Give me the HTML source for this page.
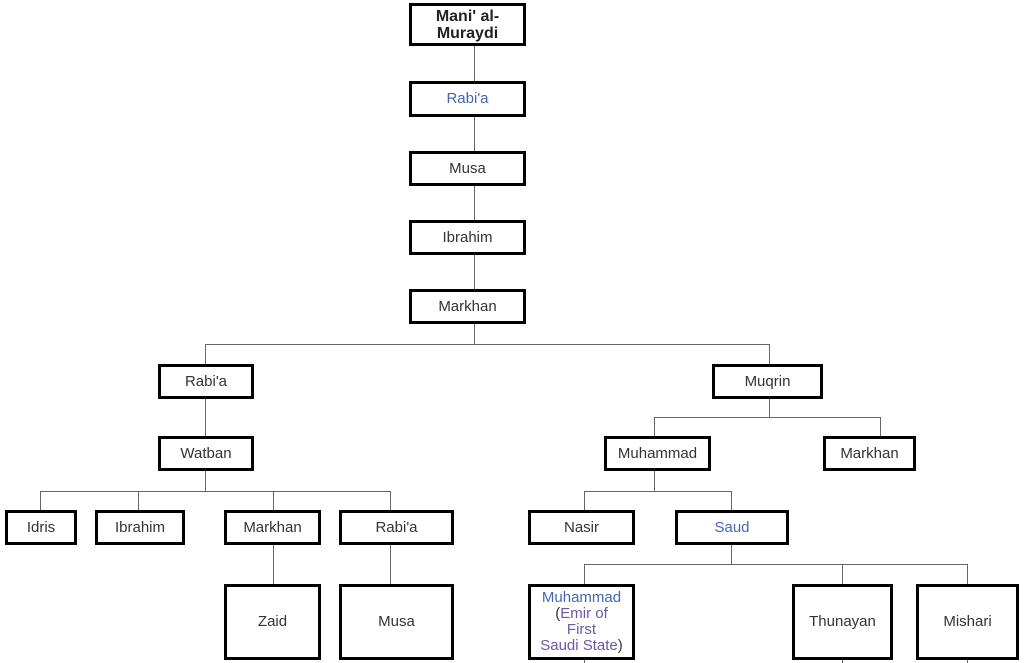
<!DOCTYPE html>
<html><head><meta charset="utf-8"><style>
body{margin:0;width:1024px;height:663px;background:#fff;position:relative;overflow:hidden;font-family:"Liberation Sans","DejaVu Sans",sans-serif;font-size:15px;color:#333}
.b{position:absolute;box-sizing:border-box;border:3px solid #000;background:#fff;display:flex;align-items:center;justify-content:center;text-align:center;line-height:16px}
.h{position:absolute;height:1px;background:#666}
.v{position:absolute;width:1px;background:#666}
.l{color:#4466b4}.p{color:#6b58a8}
</style></head><body>
<div class="v" style="left:474px;top:44px;height:246px"></div>
<div class="v" style="left:474px;top:322px;height:22px"></div>
<div class="h" style="left:205px;top:344px;width:565px"></div>
<div class="v" style="left:205px;top:344px;height:127px"></div>
<div class="v" style="left:769px;top:344px;height:73px"></div>
<div class="h" style="left:654px;top:417px;width:227px"></div>
<div class="v" style="left:654px;top:417px;height:74px"></div>
<div class="v" style="left:880px;top:417px;height:20px"></div>
<div class="h" style="left:40px;top:491px;width:351px"></div>
<div class="v" style="left:205px;top:470px;height:21px"></div>
<div class="v" style="left:40px;top:491px;height:20px"></div>
<div class="v" style="left:138px;top:491px;height:20px"></div>
<div class="v" style="left:273px;top:491px;height:94px"></div>
<div class="v" style="left:390px;top:491px;height:94px"></div>
<div class="h" style="left:584px;top:491px;width:148px"></div>
<div class="v" style="left:584px;top:491px;height:20px"></div>
<div class="v" style="left:731px;top:491px;height:74px"></div>
<div class="h" style="left:584px;top:564px;width:384px"></div>
<div class="v" style="left:584px;top:564px;height:99px"></div>
<div class="v" style="left:842px;top:564px;height:99px"></div>
<div class="v" style="left:967px;top:564px;height:99px"></div>
<div class="b" style="left:409px;top:3px;width:117px;height:43px;font-weight:bold;color:#222;font-size:16px;line-height:17px">Mani' al-<br>Muraydi</div>
<div class="b l" style="left:409px;top:81px;width:117px;height:36px">Rabi'a</div>
<div class="b" style="left:409px;top:151px;width:117px;height:35px">Musa</div>
<div class="b" style="left:409px;top:220px;width:117px;height:35px">Ibrahim</div>
<div class="b" style="left:409px;top:289px;width:117px;height:35px">Markhan</div>
<div class="b" style="left:158px;top:364px;width:96px;height:35px">Rabi'a</div>
<div class="b" style="left:712px;top:364px;width:111px;height:35px">Muqrin</div>
<div class="b" style="left:158px;top:436px;width:96px;height:35px">Watban</div>
<div class="b" style="left:604px;top:436px;width:107px;height:35px">Muhammad</div>
<div class="b" style="left:823px;top:436px;width:93px;height:35px">Markhan</div>
<div class="b" style="left:5px;top:510px;width:72px;height:35px">Idris</div>
<div class="b" style="left:95px;top:510px;width:90px;height:35px">Ibrahim</div>
<div class="b" style="left:224px;top:510px;width:97px;height:35px">Markhan</div>
<div class="b" style="left:339px;top:510px;width:115px;height:35px">Rabi'a</div>
<div class="b" style="left:528px;top:510px;width:107px;height:35px">Nasir</div>
<div class="b l" style="left:675px;top:510px;width:114px;height:35px">Saud</div>
<div class="b" style="left:224px;top:584px;width:97px;height:76px">Zaid</div>
<div class="b" style="left:339px;top:584px;width:115px;height:76px">Musa</div>
<div class="b" style="left:528px;top:584px;width:107px;height:76px"><span><span class="l">Muhammad</span><br>(<span class="p">Emir of<br>First<br>Saudi State</span>)</span></div>
<div class="b" style="left:792px;top:584px;width:101px;height:76px">Thunayan</div>
<div class="b" style="left:916px;top:584px;width:103px;height:76px">Mishari</div>
</body></html>
